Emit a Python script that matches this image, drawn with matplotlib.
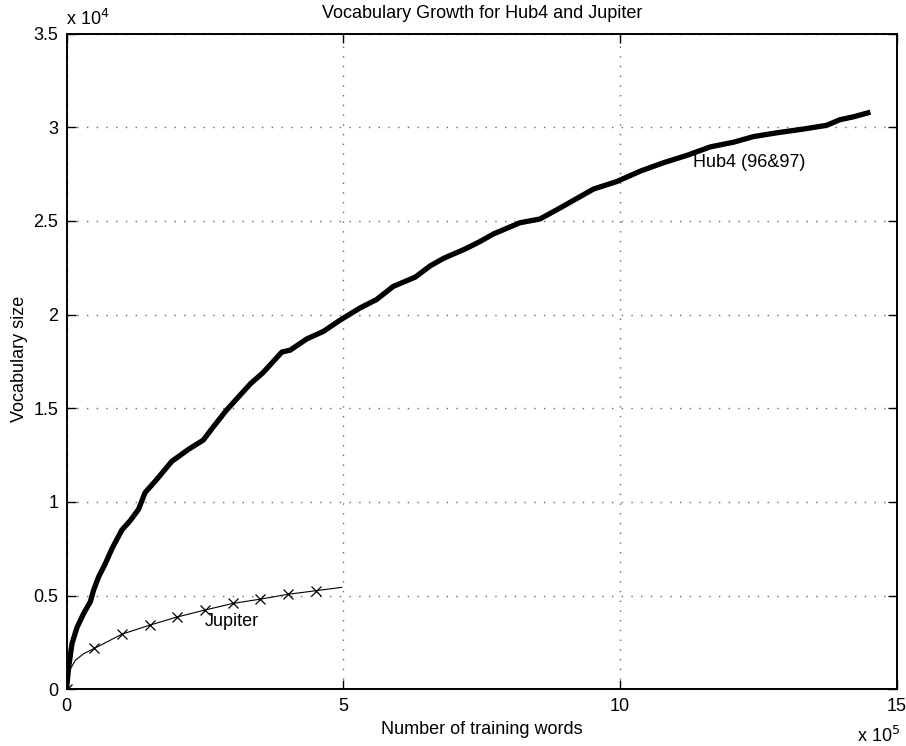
import matplotlib
matplotlib.use("Agg")
import matplotlib.pyplot as plt
import numpy as np

plt.rcParams['font.family'] = ['Liberation Sans', 'DejaVu Sans']

# Data (x in units of 1e5 training words, y in units of 1e4 vocabulary entries)
hub4_words = [0, 0.04, 0.10, 0.19, 0.31, 0.43, 0.49, 0.58, 0.70, 0.82, 1.00, 1.15, 1.30,
              1.42, 1.63, 1.90, 2.20, 2.47, 2.65, 2.89, 3.32, 3.55, 3.89, 4.04, 4.34,
              4.64, 4.94, 5.30, 5.60, 5.90, 6.30, 6.57, 6.81, 7.20, 7.47, 7.71, 8.19,
              8.55, 8.86, 9.28, 9.52, 9.94, 10.36, 10.78, 11.21, 11.63, 12.05, 12.41,
              12.83, 13.31, 13.73, 13.97, 14.21, 14.52]
hub4_vocab = [0, 0.12, 0.245, 0.33, 0.405, 0.467, 0.53, 0.60, 0.67, 0.75, 0.85, 0.90, 0.96,
              1.05, 1.12, 1.216, 1.28, 1.33, 1.40, 1.49, 1.63, 1.69, 1.80, 1.81, 1.87,
              1.91, 1.97, 2.035, 2.08, 2.15, 2.20, 2.26, 2.30, 2.35, 2.39, 2.43, 2.49,
              2.51, 2.56, 2.63, 2.67, 2.71, 2.765, 2.81, 2.85, 2.895, 2.92, 2.95,
              2.97, 2.99, 3.01, 3.04, 3.055, 3.08]

jup_words = [0, 0.02, 0.04, 0.16, 0.31, 0.5, 1.0, 1.5, 2.0, 2.5, 3.0, 3.5, 4.0, 4.5, 4.97]
jup_vocab = [0, 0.06, 0.093, 0.155, 0.19, 0.218, 0.294, 0.342, 0.386, 0.423, 0.458,
             0.481, 0.507, 0.526, 0.544]
jup_marker_words = [0, 0.5, 1.0, 1.5, 2.0, 2.5, 3.0, 3.5, 4.0, 4.5]
jup_marker_vocab = [0, 0.218, 0.294, 0.342, 0.386, 0.423, 0.458, 0.481, 0.507, 0.526]

x_ticks = [0, 5, 10, 15]
y_ticks = [0, 0.5, 1, 1.5, 2, 2.5, 3, 3.5]
y_ticklabels = ['0', '0.5', '1', '1.5', '2', '2.5', '3', '3.5']

W, H = 906, 746
fig = plt.figure(figsize=(W / 100, H / 100), dpi=100)
L, R, T, B = 66.5, 897.0, 33.5, 689.3
ax = fig.add_axes([L / W, 1 - B / H, (R - L) / W, (B - T) / H])

FS = 13
ax.plot(hub4_words, hub4_vocab, color='black', lw=3.8, solid_joinstyle='round',
        solid_capstyle='butt', zorder=3)
ax.plot(jup_words, jup_vocab, color='black', lw=0.8, zorder=3)
ax.plot(jup_marker_words, jup_marker_vocab, ls='none', marker='x', ms=6.5,
        mew=0.9, color='black', zorder=3)

ax.set_xlim(0, 15)
ax.set_ylim(0, 3.5)
ax.set_xticks(x_ticks)
ax.set_yticks(y_ticks)
ax.set_yticklabels(y_ticklabels)
ax.tick_params(direction='in', length=6.5, width=1.0, top=True, right=True,
               labelsize=FS, pad=6)
for s in ax.spines.values():
    s.set_linewidth(1.4)
ax.grid(True, color='#666666', linestyle=(0, (1, 6)), linewidth=1.0)
ax.set_axisbelow(True)

ax.text(11.31, 2.81, 'Hub4 (96&97)', fontsize=FS, ha='left', va='center')
ax.text(2.50, 0.36, 'Jupiter', fontsize=FS, ha='left', va='center')

fig.text(482 / W, 1 - 14 / H, 'Vocabulary Growth for Hub4 and Jupiter', fontsize=FS,
         ha='center', va='center')
fig.text(482 / W, 1 - 729 / H, 'Number of training words', fontsize=FS,
         ha='center', va='center')
fig.text(20 / W, 1 - 359 / H, 'Vocabulary size', fontsize=FS, rotation=90,
         ha='center', va='center')
fig.text(66 / W, 1 - 25 / H, r'x 10$^{4}$', fontsize=FS, ha='left', va='baseline')
fig.text(857 / W, 1 - 742 / H, r'x 10$^{5}$', fontsize=FS, ha='left', va='baseline')

fig.savefig('out.png', dpi=100)
